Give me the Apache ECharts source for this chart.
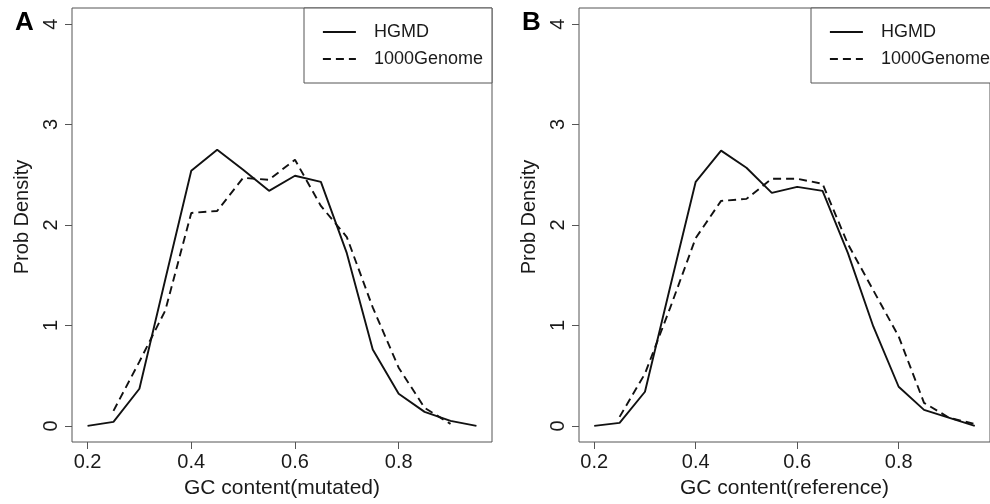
<!DOCTYPE html>
<html>
<head>
<meta charset="utf-8">
<script src="https://cdn.jsdelivr.net/npm/echarts@6/dist/echarts.min.js"></script>
<style>
html,body{margin:0;padding:0;background:#fff;}
#chart{width:990px;height:504px;}
</style>
</head>
<body>
<div id="chart"></div>
<script>
// GC content bins (x)
const gcBins = [0.2,0.25,0.3,0.35,0.4,0.45,0.5,0.55,0.6,0.65,0.7,0.75,0.8,0.85,0.9,0.95];
// Panel A: GC content (mutated)
const hgmdMutated = [0,0.04,0.37,1.46,2.54,2.75,2.55,2.34,2.49,2.43,1.72,0.76,0.32,0.14,0.05,0];
const kgMutated   = [null,0.15,0.64,1.15,2.12,2.14,2.47,2.45,2.65,2.19,1.88,1.18,0.58,0.18,0.02,null];
// Panel B: GC content (reference)
const hgmdReference = [0,0.03,0.34,1.39,2.43,2.74,2.57,2.32,2.38,2.34,1.72,0.99,0.39,0.16,0.08,0];
const kgReference   = [null,0.09,0.52,1.18,1.87,2.24,2.26,2.46,2.46,2.41,1.81,1.35,0.89,0.23,0.08,0.02];
// Tick labels
const xTicks = [0.2,0.4,0.6,0.8];
const yTicks = [0,1,2,3,4];
const seriesNames = ['HGMD','1000Genome'];
const panelLabels = ['A','B'];
const xTitles = ['GC content(mutated)','GC content(reference)'];
const yTitle = 'Prob Density';

const FONT = 'Liberation Sans, Arial, Helvetica, sans-serif';
const TXT = '#1a1a1a';
const BOX = '#555';

function pairs(xs, ys){
  const out = [];
  xs.forEach((x,i)=>{ if(ys[i]!==null && ys[i]!==undefined) out.push([x, ys[i]]); });
  return out;
}

const grids = [
  {left:72, top:8, width:420, height:435},
  {left:579, top:8, width:421, height:435}
];

function xAxisFor(i){
  return {
    type:'value', gridIndex:i, min:0.17, max:0.98, position:'bottom',
    axisLine:{show:false, onZero:false},
    splitLine:{show:false},
    axisTick:{show:true, inside:false, customValues:xTicks, length:7, lineStyle:{color:BOX, width:1}},
    axisLabel:{show:true, customValues:xTicks, fontSize:20, color:TXT, fontFamily:FONT, margin:10,
      formatter:v=>v.toFixed(1)},
    name:xTitles[i], nameLocation:'middle', nameGap:36,
    nameTextStyle:{fontSize:21, color:TXT, fontFamily:FONT}
  };
}
function yAxisFor(i){
  return {
    type:'value', gridIndex:i, min:-0.16, max:4.16, position:'left',
    axisLine:{show:false, onZero:false},
    splitLine:{show:false},
    axisTick:{show:true, inside:false, customValues:yTicks, length:7, lineStyle:{color:BOX, width:1}},
    axisLabel:{show:true, customValues:yTicks, fontSize:20, color:TXT, fontFamily:FONT, margin:11, rotate:90,
      formatter:v=>String(Math.round(v))},
    name:yTitle, nameLocation:'middle', nameGap:40, nameRotate:90,
    nameTextStyle:{fontSize:20, color:TXT, fontFamily:FONT, padding:[0,0,0,16]}
  };
}

const dataSets = [[hgmdMutated, kgMutated],[hgmdReference, kgReference]];
const lineTypes = ['solid',[8,5]];
const series = [];
dataSets.forEach((ds, gi)=>{
  ds.forEach((vals, si)=>{
    series.push({
      name:seriesNames[si], type:'line', xAxisIndex:gi, yAxisIndex:gi,
      data:pairs(gcBins, vals), symbol:'none', silent:true, animation:false,
      lineStyle:{color:'#111', width:1.9, type:lineTypes[si]}, itemStyle:{color:'#111'}
    });
  });
});

function legendFor(left){
  return {
    orient:'vertical', left:left, top:8,
    data:seriesNames,
    itemWidth:33, itemHeight:14, itemGap:9,
    padding:[15,9,15,18],
    borderColor:BOX, borderWidth:1, backgroundColor:'#fff',
    selectedMode:false,
    itemStyle:{opacity:0},
    lineStyle:{inherit:true, width:1.8},
    textStyle:{fontSize:18, color:TXT, fontFamily:FONT, lineHeight:14, padding:[0,0,0,13]}
  };
}

const chart = echarts.init(document.getElementById('chart'), null, {renderer:'canvas'});
chart.setOption({
  backgroundColor:'#fff',
  animation:false,
  title: panelLabels.map((t,i)=>({
    text:t, left: i===0 ? 10 : 517, top:5,
    textStyle:{fontSize:26, fontWeight:'bold', color:'#000', fontFamily:FONT}
  })),
  grid: grids.map(g=>Object.assign({show:true, borderColor:BOX, borderWidth:1, backgroundColor:'transparent', containLabel:false}, g)),
  xAxis:[xAxisFor(0), xAxisFor(1)],
  yAxis:[yAxisFor(0), yAxisFor(1)],
  legend:[legendFor(304), legendFor(811)],
  series:series
});
</script>
</body>
</html>
